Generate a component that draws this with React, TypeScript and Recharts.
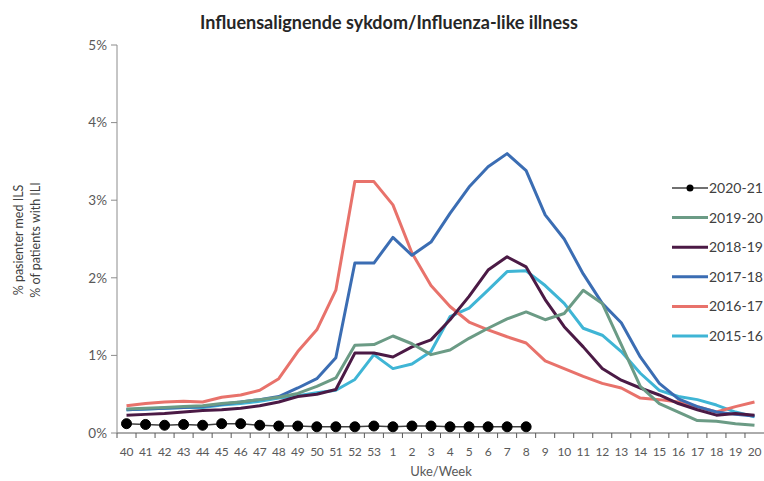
import { LineChart, Line, XAxis, YAxis } from 'recharts'

const weeks = [
  '40', '41', '42', '43', '44', '45', '46', '47', '48', '49', '50', '51', '52', '53',
  '1', '2', '3', '4', '5', '6', '7', '8', '9', '10', '11', '12', '13', '14', '15', '16', '17', '18', '19', '20',
]

const s2020_21 = [0.12, 0.11, 0.10, 0.11, 0.10, 0.12, 0.12, 0.10, 0.09, 0.09, 0.08, 0.08, 0.08, 0.09, 0.08, 0.09, 0.09, 0.08, 0.08, 0.08, 0.08, 0.08]
const s2019_20 = [0.31, 0.32, 0.33, 0.34, 0.35, 0.38, 0.40, 0.43, 0.46, 0.51, 0.60, 0.71, 1.13, 1.14, 1.25, 1.15, 1.01, 1.07, 1.22, 1.35, 1.47, 1.56, 1.46, 1.54, 1.84, 1.67, 1.14, 0.60, 0.38, 0.27, 0.16, 0.15, 0.12, 0.10]
const s2018_19 = [0.23, 0.24, 0.25, 0.27, 0.29, 0.30, 0.32, 0.35, 0.40, 0.47, 0.50, 0.56, 1.03, 1.03, 0.98, 1.11, 1.20, 1.46, 1.76, 2.10, 2.27, 2.14, 1.72, 1.37, 1.11, 0.83, 0.68, 0.58, 0.49, 0.38, 0.30, 0.23, 0.25, 0.23]
const s2017_18 = [0.30, 0.31, 0.32, 0.33, 0.34, 0.37, 0.40, 0.43, 0.47, 0.58, 0.70, 0.97, 2.19, 2.19, 2.52, 2.29, 2.46, 2.83, 3.17, 3.43, 3.60, 3.38, 2.81, 2.50, 2.05, 1.67, 1.42, 0.98, 0.64, 0.44, 0.34, 0.27, 0.24, 0.22]
const s2016_17 = [0.35, 0.38, 0.40, 0.41, 0.40, 0.46, 0.49, 0.55, 0.70, 1.05, 1.33, 1.84, 3.24, 3.24, 2.94, 2.32, 1.90, 1.63, 1.43, 1.33, 1.24, 1.16, 0.93, 0.83, 0.73, 0.64, 0.58, 0.45, 0.43, 0.40, 0.34, 0.27, 0.34, 0.40]
const s2015_16 = [0.30, 0.31, 0.32, 0.33, 0.33, 0.36, 0.38, 0.41, 0.45, 0.48, 0.52, 0.55, 0.69, 1.01, 0.83, 0.89, 1.05, 1.50, 1.61, 1.84, 2.08, 2.09, 1.90, 1.67, 1.35, 1.26, 1.05, 0.77, 0.55, 0.47, 0.43, 0.36, 0.27, 0.21]

const yTicks = [0, 1, 2, 3, 4, 5]

const series = [
  { key: '2020-21', values: s2020_21, color: '#000000' },
  { key: '2019-20', values: s2019_20, color: '#6b9b85' },
  { key: '2018-19', values: s2018_19, color: '#4b1a45' },
  { key: '2017-18', values: s2017_18, color: '#3b6db3' },
  { key: '2016-17', values: s2016_17, color: '#e8726b' },
  { key: '2015-16', values: s2015_16, color: '#3fb5d5' },
]

const data = weeks.map((week, i) => {
  const row: Record<string, string | number | null> = { week }
  series.forEach((s) => {
    row[s.key] = i < s.values.length ? s.values[i] : null
  })
  return row
})

const W = 764
const H = 481
const LEFT = 117
const TOP = 45
const BOTTOM = 48
const band = (W - LEFT) / weeks.length
const font = 'Lato, "Open Sans", sans-serif'

const XTick = (props: any) => {
  const { x, y, payload } = props
  const tx = x - band / 2
  // keep the last label inside the picture
  const lx = Math.min(x, W - 8)
  return (
    <g>
      <line x1={tx} x2={tx} y1={y} y2={y + 5} stroke="#595959" strokeWidth={1} />
      <text x={lx} y={y + 23} textAnchor="middle" fontSize={12} letterSpacing={-0.3} fill="#595959" fontFamily={font}>
        {payload.value}
      </text>
    </g>
  )
}

// legend drawn as an overlay so it does not take space from the plot
const LegendBox = () => (
  <svg width={100} height={180} style={{ position: 'absolute', left: 671, top: 178, pointerEvents: 'none' }}>
    {series.map((s, i) => {
      const cy = 10 + i * 29.6
      const black = s.key === '2020-21'
      return (
        <g key={s.key}>
          <line x1={1} x2={37} y1={cy} y2={cy} stroke={black ? '#404040' : s.color} strokeWidth={black ? 1.5 : 3} />
          {black && <circle cx={19} cy={cy} r={3.5} fill="#000" />}
          <text x={38} y={cy + 5} fontSize={14} fill="#404040" fontFamily={font}>
            {s.key}
          </text>
        </g>
      )
    })}
  </svg>
)

export default function App() {
  const drawOrder = [...series].reverse()
  return (
    <div style={{ position: 'absolute', left: 0, top: 0, width: W, height: H, background: '#fff', overflow: 'hidden' }}>
      <LineChart width={W} height={H} data={data} margin={{ top: TOP, right: 0, bottom: 0, left: 0 }}>
        <XAxis
          dataKey="week"
          interval={0}
          padding={{ left: band / 2, right: band / 2 }}
          tickLine={false}
          tickSize={0}
          tickMargin={0}
          tick={<XTick />}
          axisLine={{ stroke: '#595959' }}
          height={BOTTOM}
        />
        <YAxis
          width={LEFT}
          domain={[0, 5]}
          ticks={yTicks}
          tickFormatter={(v: number) => `${v}%`}
          tickSize={6}
          tickMargin={4}
          tickLine={{ stroke: '#8c8c8c' }}
          axisLine={{ stroke: '#8c8c8c' }}
          tick={{ fontSize: 13.5, fill: '#595959', fontFamily: font }}
          interval={0}
        />
        {drawOrder.map((s) =>
          s.key === '2020-21' ? (
            <Line
              key={s.key}
              dataKey={s.key}
              stroke="#404040"
              strokeWidth={1.5}
              dot={{ r: 5, fill: '#000', stroke: '#000', strokeWidth: 1 }}
              activeDot={false}
              connectNulls={false}
              isAnimationActive={false}
            />
          ) : (
            <Line
              key={s.key}
              dataKey={s.key}
              stroke={s.color}
              strokeWidth={3}
              dot={false}
              activeDot={false}
              strokeLinejoin="round"
              isAnimationActive={false}
            />
          )
        )}
      </LineChart>
      <LegendBox />
      <svg width={W} height={H} style={{ position: 'absolute', left: 0, top: 0, pointerEvents: 'none' }}>
        <text x={389} y={29} textAnchor="middle" fontSize={18} fontWeight="bold" fill="#262626" fontFamily={font}>
          Influensalignende sykdom/Influenza-like illness
        </text>
        <text x={441} y={476} textAnchor="middle" fontSize={13} fill="#595959" fontFamily={font}>
          Uke/Week
        </text>
        <text transform="translate(23,240) rotate(-90)" textAnchor="middle" fontSize={12.5} fill="#404040" fontFamily={font}>
          % pasienter med ILS
        </text>
        <text transform="translate(40,240) rotate(-90)" textAnchor="middle" fontSize={12.5} fill="#404040" fontFamily={font}>
          % of patients with ILI
        </text>
      </svg>
    </div>
  )
}
